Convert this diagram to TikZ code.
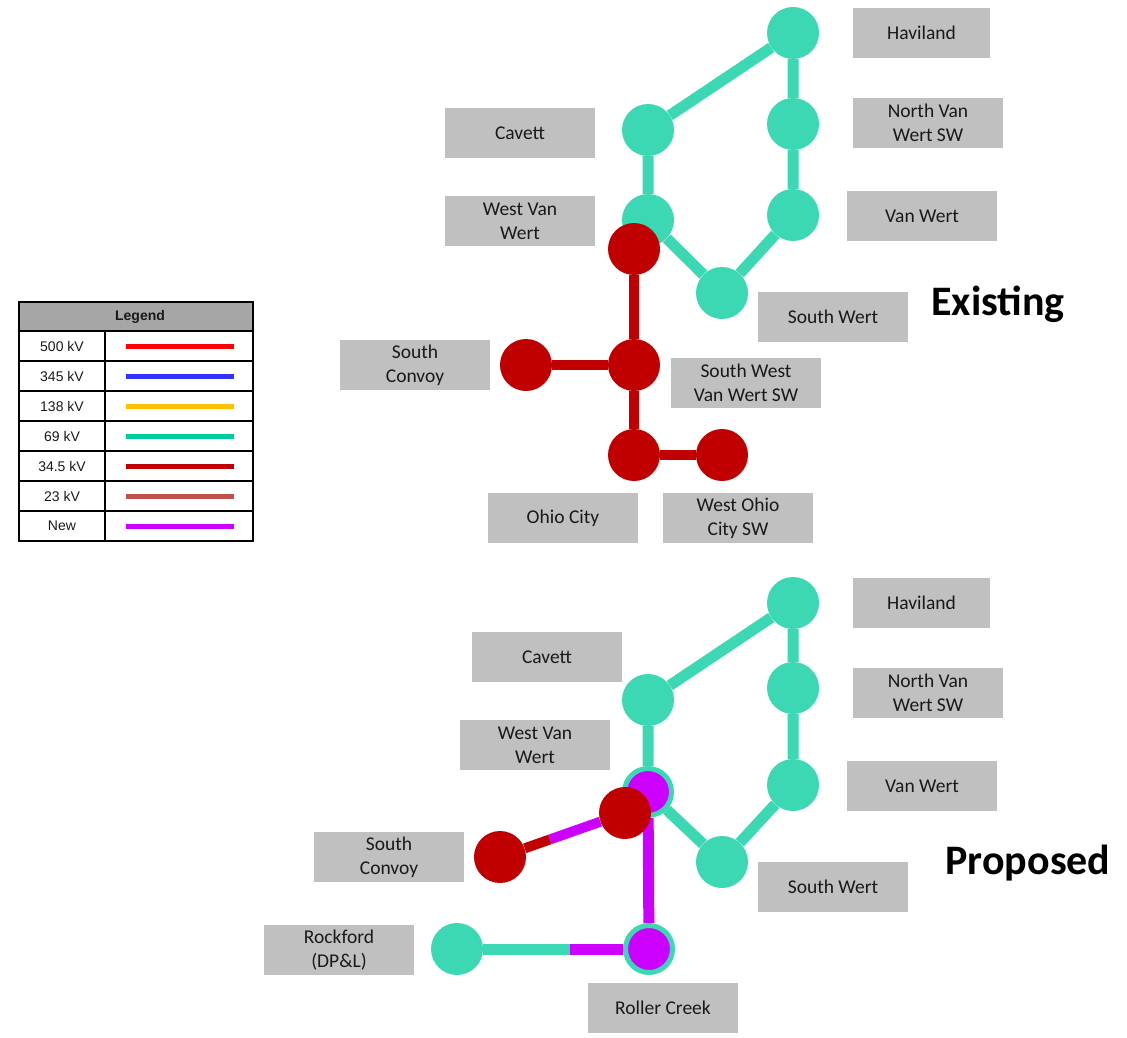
\documentclass[tikz,border=0pt]{standalone}
\usepackage{fontspec}
\setmainfont{Carlito}
\newfontfamily\legendfont{Liberation Sans}
\usetikzlibrary{calc, backgrounds}
\definecolor{tealbus}{HTML}{3BD8B3}
\definecolor{redbus}{HTML}{C00000}
\definecolor{newbus}{HTML}{CC00FF}
\definecolor{taggray}{HTML}{C0C0C0}
\definecolor{headgray}{HTML}{A6A6A6}
\definecolor{kvfive}{HTML}{FF0000}
\definecolor{kvthree}{HTML}{3333FF}
\definecolor{kvone}{HTML}{FFC000}
\definecolor{kvsixty}{HTML}{00CC99}
\definecolor{kvthirty}{HTML}{C00000}
\definecolor{kvtwenty}{HTML}{C0504D}
\definecolor{kvnew}{HTML}{CC00FF}
\tikzset{
  bus/.style={circle, fill=#1, minimum size=52pt, inner sep=0pt},
  ringbus/.style={circle, fill=newbus, draw=tealbus, line width=5pt, minimum size=47pt, inner sep=0pt},
  tie/.style={line width=11pt, color=#1},
  tag/.style={fill=taggray, minimum width=150pt, minimum height=50pt, inner sep=0pt,
    align=center, text=black!90, font=\fontsize{19.5}{24}\selectfont},
  title/.style={font=\fontsize{42}{46}\selectfont\bfseries},
  legtext/.style={font=\legendfont\fontsize{14}{16}\selectfont, text=black!90}
}

\begin{document}
\begin{tikzpicture}[x=1pt, y=-1pt]
\useasboundingbox (0,0) rectangle (1127,1038);

% legend
\fill[headgray] (19,302) rectangle (253,331);
\node[legtext, font=\legendfont\bfseries\fontsize{14}{16}\selectfont] (leghead) at (140,317) {Legend};
\foreach \kv/\col [count=\i] in {500 kV/kvfive, 345 kV/kvthree, 138 kV/kvone, 69 kV/kvsixty, 34.5 kV/kvthirty, 23 kV/kvtwenty, New/kvnew} {
  \node[legtext] (lk\i) at (62,316+30*\i) {\kv};
  \draw[line width=5pt, \col] (126,316+30*\i) -- (234,316+30*\i);
  \draw[line width=1.2pt] (19,301+30*\i) -- (253,301+30*\i);
}
\draw[line width=1.2pt] (105,331) -- (105,541);
\draw[line width=1.5pt] (19,302) rectangle (253,541);

% existing
\node[bus=tealbus] (hav1) at (793,33) {};
\node[bus=tealbus] (cav1) at (648,130) {};
\node[bus=tealbus] (nvw1) at (793,124) {};
\node[bus=tealbus] (wvw1) at (648,220) {};
\node[bus=tealbus] (vw1) at (793,215) {};
\node[bus=tealbus] (sw1) at (722,293) {};
\node[bus=redbus] (wvwr1) at (634,249) {};
\node[bus=redbus] (swvw1) at (634,365) {};
\node[bus=redbus] (sc1) at (526,365) {};
\node[bus=redbus] (oc1) at (634,455) {};
\node[bus=redbus] (woc1) at (722,455) {};

\begin{scope}[on background layer]
\draw[tie=tealbus] (hav1) -- (cav1);
\draw[tie=tealbus] (hav1) -- (nvw1) -- (vw1) -- (sw1) -- (wvw1) -- (cav1);
\draw[tie=redbus, line width=10pt] (wvwr1) -- (swvw1) -- (oc1) -- (woc1);
\draw[tie=redbus, line width=10pt] (sc1) -- (swvw1);
\end{scope}

\node[tag, minimum width=137pt] (havt1) at (921.5,33) {Haviland};
\node[tag] (nvwt1) at (928,123) {North Van\\Wert SW};
\node[tag] (cavt1) at (520,133) {Cavett};
\node[tag] (wvwt1) at (520,221) {West Van\\Wert};
\node[tag] (vwt1) at (922,216) {Van Wert};
\node[tag] (swt1) at (833,317) {South Wert};
\node[tag] (sct1) at (415,365) {South\\Convoy};
\node[tag] (swvwt1) at (746,383) {South West\\Van Wert SW};
\node[tag] (oct1) at (563,518) {Ohio City};
\node[tag] (woct1) at (738,518) {West Ohio\\City SW};
\node[title] (exist) at (998,304) {Existing};

% proposed
\node[bus=tealbus] (hav2) at (793,603) {};
\node[bus=tealbus] (cav2) at (648,700) {};
\node[bus=tealbus] (nvw2) at (793,688) {};
\node[bus=tealbus] (vw2) at (793,785) {};
\node[bus=tealbus] (sw2) at (722,862) {};
\node[ringbus] (wvw2) at (648,792) {};
\node[bus=redbus] (swvw2) at (625,813) {};
\node[bus=redbus] (sc2) at (500,857) {};
\node[bus=tealbus] (rock2) at (457,949) {};
\node[ringbus] (rc2) at (649,949) {};
\coordinate (scsplit) at ($(sc2)!0.4!(swvw2)$);
\coordinate (rocksplit) at ($(rock2)!0.59!(rc2)$);

\begin{scope}[on background layer]
\draw[tie=tealbus] (hav2) -- (cav2);
\draw[tie=tealbus] (hav2) -- (nvw2) -- (vw2) -- (sw2) -- (wvw2) -- (cav2);
\draw[tie=newbus] (wvw2) -- (rc2);
\draw[tie=tealbus] (rock2) -- (rocksplit);
\draw[tie=newbus] (rocksplit) -- (rc2);
\draw[tie=redbus, line width=10pt] (sc2) -- (scsplit);
\draw[tie=newbus, line width=10pt] (scsplit) -- (swvw2);
\end{scope}

\node[tag, minimum width=137pt] (havt2) at (921.5,603) {Haviland};
\node[tag] (nvwt2) at (928,693) {North Van\\Wert SW};
\node[tag] (cavt2) at (547,657) {Cavett};
\node[tag] (wvwt2) at (535,745) {West Van\\Wert};
\node[tag] (vwt2) at (922,786) {Van Wert};
\node[tag] (sct2) at (389,857) {South\\Convoy};
\node[tag] (swt2) at (833,887) {South Wert};
\node[tag] (rockt2) at (339,950) {Rockford\\(DP\&L)};
\node[tag] (rct2) at (663,1008) {Roller Creek};
\node[title] (prop) at (1028,863) {Proposed};
\end{tikzpicture}
\end{document}
